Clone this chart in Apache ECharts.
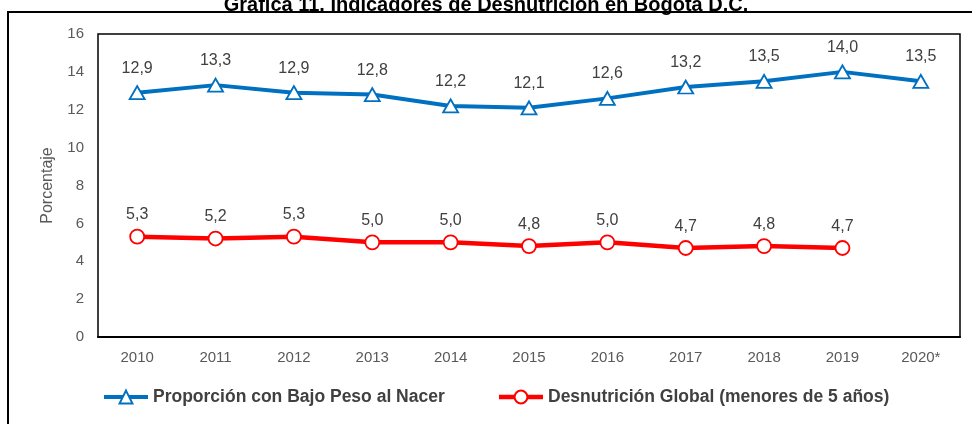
<!DOCTYPE html>
<html>
<head>
<meta charset="utf-8">
<script src="https://cdn.jsdelivr.net/npm/echarts@6/dist/echarts.min.js"></script>
<style>
html,body{margin:0;padding:0;background:#fff;}
#chart{width:972px;height:424px;}
</style>
</head>
<body>
<div id="chart"></div>
<script>
//数据
var years = ['2010','2011','2012','2013','2014','2015','2016','2017','2018','2019','2020*'];
var bajoPeso = [12.9, 13.3, 12.9, 12.8, 12.2, 12.1, 12.6, 13.2, 13.5, 14.0, 13.5];
var desnutricion = [5.3, 5.2, 5.3, 5.0, 5.0, 4.8, 5.0, 4.7, 4.8, 4.7, null];
var yTicks = [0, 2, 4, 6, 8, 10, 12, 14, 16];

function coma(p){
	return p.value == null ? '' : p.value.toFixed(1).replace('.', ',');
}

var chart = echarts.init(document.getElementById('chart'));
var option = {
	backgroundColor: '#fff',
	title: {
		text: 'Gráfica 11. Indicadores de Desnutrición en Bogotá D.C.',
		left: 'center',
		top: -10,
		textStyle: {fontFamily: 'Liberation Sans', fontSize: 20, fontWeight: 'bold', color: '#000'}
	},
	graphic: [{
		type: 'rect',
		shape: {x: 8, y: 12, width: 990, height: 440},
		style: {fill: 'none', stroke: '#000', lineWidth: 2},
		silent: true
	}],
	color: ['#0070C0', '#FF0000'],
	legend: {
		bottom: 13,
		left: 97,
		itemWidth: 44,
		itemHeight: 16,
		itemGap: 52,
		textStyle: {fontFamily: 'Liberation Sans', fontSize: 17.5, fontWeight: 'bold', color: '#404040'},
		data: [
			{name: 'Proporción con Bajo Peso al Nacer', lineStyle: {width: 4}},
			{name: 'Desnutrición Global (menores de 5 años)', lineStyle: {width: 4.5}}
		]
	},
	grid: {
		left: 98,
		right: 12,
		top: 34,
		bottom: 87,
		show: true,
		borderColor: '#000',
		borderWidth: 1.5
	},
	xAxis: {
		type: 'category',
		data: years,
		boundaryGap: true,
		axisLine: {lineStyle: {color: '#000', width: 2}},
		axisTick: {show: false},
		axisLabel: {fontFamily: 'Liberation Sans', fontSize: 15, color: '#595959', margin: 13}
	},
	yAxis: {
		type: 'value',
		min: yTicks[0],
		max: yTicks[yTicks.length - 1],
		interval: 2,
		name: 'Porcentaje',
		nameLocation: 'middle',
		nameGap: 42,
		nameTextStyle: {fontFamily: 'Liberation Sans', fontSize: 16, color: '#595959'},
		splitLine: {show: false},
		axisLine: {show: false},
		axisTick: {show: false},
		axisLabel: {fontFamily: 'Liberation Sans', fontSize: 15, color: '#595959', margin: 14}
	},
	series: [
		{
			name: 'Proporción con Bajo Peso al Nacer',
			type: 'line',
			data: bajoPeso,
			symbol: 'triangle',
			symbolSize: [15, 13],
			lineStyle: {width: 4, color: '#0070C0'},
			itemStyle: {color: '#fff', borderColor: '#0070C0', borderWidth: 1.8},
			label: {show: true, position: 'top', distance: 9, formatter: coma,
				fontFamily: 'Liberation Sans', fontSize: 16, color: '#404040'}
		},
		{
			name: 'Desnutrición Global (menores de 5 años)',
			type: 'line',
			data: desnutricion,
			symbol: 'circle',
			symbolSize: 14,
			lineStyle: {width: 4.5, color: '#FF0000'},
			itemStyle: {color: '#fff', borderColor: '#FF0000', borderWidth: 1.8},
			label: {show: true, position: 'top', distance: 6, formatter: coma,
				fontFamily: 'Liberation Sans', fontSize: 16, color: '#404040'}
		}
	]
};
chart.setOption(option);
</script>
</body>
</html>
